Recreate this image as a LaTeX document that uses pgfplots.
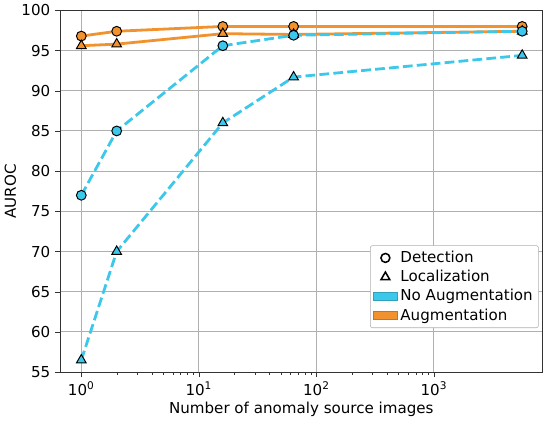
\documentclass[border=0pt]{standalone}
\usepackage{pgfplots}
\pgfplotsset{compat=1.18}
\usepackage{fontspec}
\setmainfont{DejaVu Sans}
\definecolor{cblue}{HTML}{3CC8EA}
\definecolor{corange}{HTML}{F2922E}
\definecolor{gridc}{HTML}{B0B0B0}
\begin{document}
\begin{tikzpicture}
\begin{axis}[
  scale only axis, width=344bp, height=258bp,
  xmode=log, xmin=0.66, xmax=8400, ymin=55, ymax=100,
  xtick={1,10,100,1000}, xticklabels={10\textsuperscript{0},10\textsuperscript{1},10\textsuperscript{2},10\textsuperscript{3}},
  ytick={55,60,...,100},
  /pgf/number format/assume math mode=true,
  tick label style={font=\fontsize{10.8}{12}\selectfont},
  label style={font=\fontsize{10.8}{12}\selectfont},
  xlabel={Number of anomaly source images}, ylabel={AUROC},
  xlabel style={yshift=2pt}, ylabel style={yshift=-3pt},
  grid=major, major grid style={gridc, line width=0.7pt},
  axis line style={black!80, line width=0.7pt},
  tick style={black!80}, tick align=outside,
  major tick length=3.5pt, minor tick length=2pt,
  xtick pos=bottom, ytick pos=left,
  legend style={at={(0.992,0.122)}, anchor=south east, font=\fontsize{10.8}{12}\selectfont, draw=gridc, rounded corners=1.5pt, row sep=0pt, inner sep=2pt},
  legend cell align=left,
]
\addplot[corange, line width=2pt, mark=*, mark size=3.5pt, mark options={fill=corange, draw=black, line width=0.7pt}, forget plot]
  coordinates {(1,96.8) (2,97.4) (16,98.0) (64,98.0) (5640,98.0)};
\addplot[corange, line width=2pt, mark=triangle*, mark size=4pt, mark options={fill=corange, draw=black, line width=0.7pt}, forget plot]
  coordinates {(1,95.6) (2,95.8) (16,97.1) (64,97.0) (5640,97.4)};
\addplot[cblue, line width=2pt, dash pattern=on 7pt off 3pt, mark=*, mark size=3.5pt, mark options={fill=cblue, draw=black, line width=0.7pt, solid}, forget plot]
  coordinates {(1,77.0) (2,85.0) (16,95.6) (64,96.9) (5640,97.4)};
\addplot[cblue, line width=2pt, dash pattern=on 7pt off 3pt, mark=triangle*, mark size=4pt, mark options={fill=cblue, draw=black, line width=0.7pt, solid}, forget plot]
  coordinates {(1,56.5) (2,70.0) (16,86.0) (64,91.7) (5640,94.4)};
\addlegendimage{only marks, mark=o, mark size=3.2pt, black, line width=1.1pt}
\addlegendentry{Detection}
\addlegendimage{only marks, mark=triangle, mark size=3.6pt, black, line width=1.1pt}
\addlegendentry{Localization}
\addlegendimage{area legend, sharp corners, fill=cblue, draw=cblue!80!black}
\addlegendentry{No Augmentation}
\addlegendimage{area legend, sharp corners, fill=corange, draw=corange!80!black}
\addlegendentry{Augmentation}
\end{axis}
\end{tikzpicture}
\end{document}
